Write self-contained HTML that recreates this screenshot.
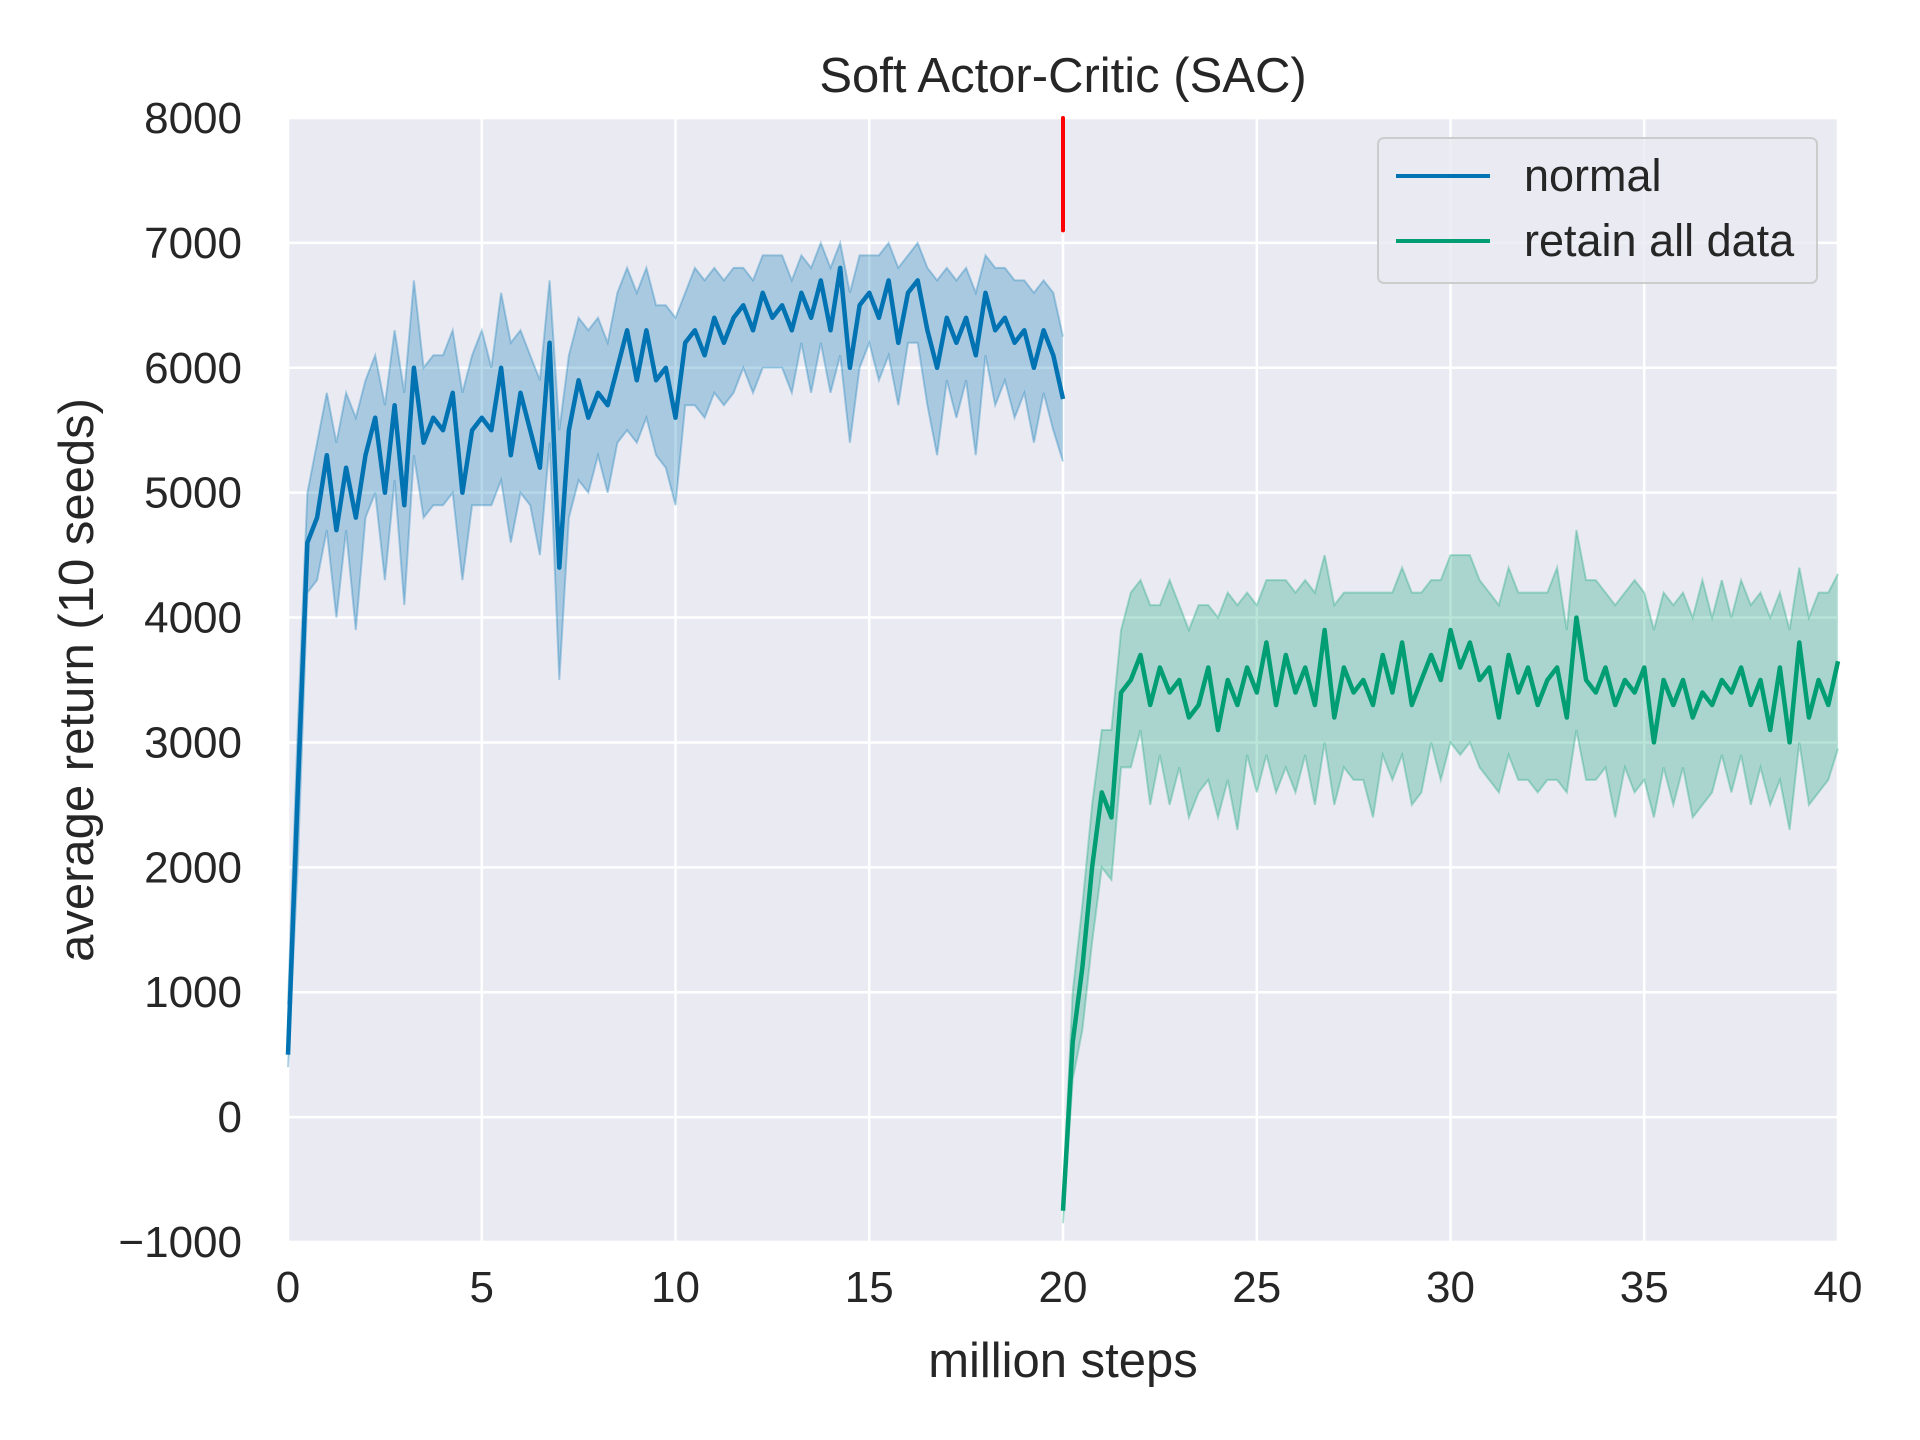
<!DOCTYPE html>
<html><head><meta charset="utf-8">
<style>
html,body{margin:0;padding:0;background:#fff;}
svg{display:block;font-family:"Liberation Sans",Arial,sans-serif;}
</style></head>
<body>
<svg id="chart" width="1920" height="1440" viewBox="0 0 1920 1440" xmlns="http://www.w3.org/2000/svg">
<rect x="288" y="118" width="1550" height="1124" fill="#eaeaf2"/>
<g id="grid"></g>
<g id="series"></g>
<g id="ticks" font-size="44" fill="#262626"></g>
<text x="1063" y="92" text-anchor="middle" font-size="49" fill="#262626">Soft Actor-Critic (SAC)</text>
<text x="1063" y="1377" text-anchor="middle" font-size="49" fill="#262626">million steps</text>
<text transform="translate(93,680) rotate(-90)" text-anchor="middle" font-size="49" fill="#262626">average return (10 seeds)</text>
<g>
<rect x="1378" y="138" width="439" height="145" rx="6" fill="#eaeaf2" fill-opacity="0.8" stroke="#cccccc" stroke-width="2"/>
<line x1="1396" y1="176" x2="1490" y2="176" stroke="#0173b2" stroke-width="4"/>
<text x="1524" y="191" font-size="45" fill="#262626">normal</text>
<line x1="1396" y1="241" x2="1490" y2="241" stroke="#029e73" stroke-width="4"/>
<text x="1524" y="256" font-size="45" fill="#262626">retain all data</text>
</g>
</svg>
<script>
const xTicks = [0,5,10,15,20,25,30,35,40];
const yTicks = [-1000,0,1000,2000,3000,4000,5000,6000,7000,8000];
const yTickLabels = ["\u22121000","0","1000","2000","3000","4000","5000","6000","7000","8000"];
const normalStart = 0, retainStart = 20, stepSize = 0.25;
const normalMean = [500,2600,4600,4800,5300,4700,5200,4800,5300,5600,5000,5700,4900,6000,5400,5600,5500,5800,5000,5500,5600,5500,6000,5300,5800,5500,5200,6200,4400,5500,5900,5600,5800,5700,6000,6300,5900,6300,5900,6000,5600,6200,6300,6100,6400,6200,6400,6500,6300,6600,6400,6500,6300,6600,6400,6700,6300,6800,6000,6500,6600,6400,6700,6200,6600,6700,6300,6000,6400,6200,6400,6100,6600,6300,6400,6200,6300,6000,6300,6100,5750];
const normalHi = [400,500,400,600,500,700,600,800,600,500,700,600,900,700,600,500,600,500,800,600,700,500,600,900,500,600,700,500,1100,600,500,700,600,500,600,500,700,500,600,500,800,400,500,600,400,500,400,300,400,300,500,400,400,300,400,300,500,200,600,400,300,500,300,600,300,300,500,700,400,500,400,500,300,500,400,500,400,600,400,500,500];
const normalLo = [100,600,400,500,600,700,500,900,500,600,700,600,800,700,600,700,600,800,700,600,700,600,900,700,800,600,700,800,900,700,800,600,500,700,600,800,500,700,600,800,700,500,600,500,600,500,600,500,500,600,400,500,500,400,600,500,500,700,600,500,400,500,600,500,400,500,600,700,500,600,500,800,500,600,500,600,500,600,500,600,500];
const retainMean = [-750,600,1200,2000,2600,2400,3400,3500,3700,3300,3600,3400,3500,3200,3300,3600,3100,3500,3300,3600,3400,3800,3300,3700,3400,3600,3300,3900,3200,3600,3400,3500,3300,3700,3400,3800,3300,3500,3700,3500,3900,3600,3800,3500,3600,3200,3700,3400,3600,3300,3500,3600,3200,4000,3500,3400,3600,3300,3500,3400,3600,3000,3500,3300,3500,3200,3400,3300,3500,3400,3600,3300,3500,3100,3600,3000,3800,3200,3500,3300,3650];
const retainHi = [100,400,500,500,500,700,500,700,600,800,500,900,600,700,800,500,900,700,800,600,700,500,1000,600,800,700,900,600,900,600,800,700,900,500,800,600,900,700,600,800,600,900,700,800,600,900,700,800,600,900,700,800,700,700,800,900,600,800,700,900,600,900,700,800,700,800,900,700,800,600,700,800,700,900,600,900,600,800,700,900,700];
const retainLo = [100,300,500,600,600,500,600,700,600,800,700,900,700,800,700,900,700,800,1000,700,800,900,700,900,800,700,800,900,700,800,700,800,900,800,700,900,800,900,700,800,900,700,800,700,900,600,800,700,900,700,800,900,600,900,800,700,800,900,700,800,900,600,700,800,700,800,900,700,600,800,700,800,700,600,900,700,800,700,900,600,700];
const cutoffX = 20, cutoffTop = 8000, cutoffBottom = 7100;

const L=288,R=1838,T=118,B=1242;
const NS="http://www.w3.org/2000/svg";
const xs=v=>L+(v-0)/(40-0)*(R-L);
const ys=v=>B-(v+1000)/9000*(B-T);
function mk(tag,attrs,parent){const e=document.createElementNS(NS,tag);for(const k in attrs)e.setAttribute(k,attrs[k]);parent.appendChild(e);return e;}
const grid=document.getElementById('grid'), ticks=document.getElementById('ticks'), series=document.getElementById('series');
xTicks.forEach(t=>{
  const g=mk('line',{x1:xs(t),x2:xs(t),y1:T,y2:B,stroke:'#fff','stroke-width':2.5},grid);
  
  
  const tx=mk('text',{x:xs(t),y:B+60,'text-anchor':'middle'},ticks);
  tx.textContent=String(t);
  
  
});
yTicks.forEach((t,i)=>{
  const g=mk('line',{x1:L,x2:R,y1:ys(t),y2:ys(t),stroke:'#fff','stroke-width':2.5},grid);
  
  
  const tx=mk('text',{x:L-46,y:ys(t)+15,'text-anchor':'end'},ticks);
  tx.textContent=yTickLabels[i];
  
  
});
function drawSeries(name,start,mean,hi,lo,color){
  const px=mean.map((_,i)=>xs(start+i*stepSize));
  const up=mean.map((m,i)=>px[i].toFixed(1)+','+ys(m+hi[i]).toFixed(1));
  const dn=mean.map((m,i)=>px[i].toFixed(1)+','+ys(m-lo[i]).toFixed(1));
  const band=mk('polygon',{points:up.concat(dn.slice().reverse()).join(' '),fill:color,'fill-opacity':0.28,stroke:'none'},series);
  
  
  [up,dn].forEach(pts=>{
    const e=mk('polyline',{points:pts.join(' '),fill:'none',stroke:color,'stroke-opacity':0.3,'stroke-width':2},series);
    
    
  });
  const ln=mk('polyline',{points:mean.map((m,i)=>px[i].toFixed(1)+','+ys(m).toFixed(1)).join(' '),fill:'none',stroke:color,'stroke-width':4.5,'stroke-linejoin':'round'},series);
  
  
}
drawSeries('normal',normalStart,normalMean,normalHi,normalLo,'#0173b2');
drawSeries('retain-all-data',retainStart,retainMean,retainHi,retainLo,'#029e73');
const red=mk('line',{x1:xs(cutoffX),x2:xs(cutoffX),y1:ys(cutoffTop),y2:ys(cutoffBottom),stroke:'#ff0000','stroke-width':4,'stroke-linecap':'round'},series);


</script>
</body></html>
